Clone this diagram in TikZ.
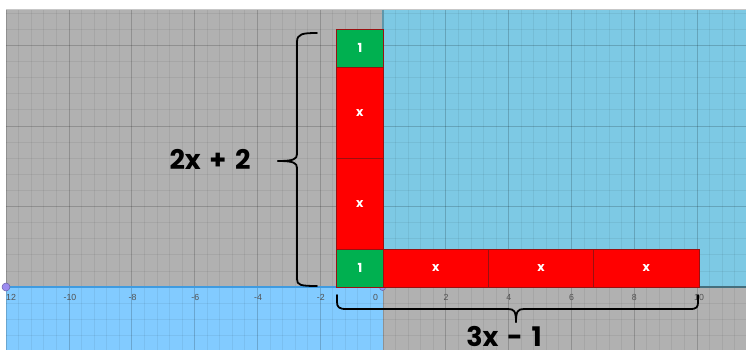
\documentclass[tikz,border=0pt]{standalone}
\usepackage{fontspec}
\newfontfamily\pop{Poppins}
\newfontfamily\lib{Liberation Sans}
\definecolor{graybg}{HTML}{B1B1B1}
\definecolor{blueur}{HTML}{7DC9E4}
\definecolor{bluell}{HTML}{82CBFF}
\definecolor{tgreen}{HTML}{00B050}
\definecolor{tred}{HTML}{FF0000}
\definecolor{tedge}{HTML}{9A1010}
\definecolor{axisb}{HTML}{3F9BE0}
\definecolor{ptpurple}{HTML}{9C8CF0}
\tikzset{
  minorline/.style={black, opacity=0.06, line width=0.8},
  majorline/.style={black, opacity=0.13, line width=1},
  tile/.style={draw=tedge, line width=0.6, inner sep=0, text=white,
    font={\pop\bfseries\fontsize{12.5}{13}\selectfont}},
  unittile/.style={tile, fill=tgreen, minimum width=46.8, minimum height=37.6},
  xvtile/.style={tile, fill=tred, minimum width=46.8, minimum height=91.1},
  xhtile/.style={tile, fill=tred, minimum width=105.2, minimum height=37.6},
  ticklab/.style={text=black!68, font={\lib\fontsize{8.8}{10}\selectfont}, inner sep=0},
  bigtext/.style={font={\pop\bfseries\fontsize{27}{30}\selectfont}, inner sep=0},
  bracestyle/.style={line width=1.8, black, line cap=round, line join=round},
}
\begin{document}
\begin{tikzpicture}[x=1pt,y=-1pt]
\useasboundingbox (0,0) rectangle (746,350);
\fill[white] (0,0) rectangle (746,350);
\begin{scope}
  \clip (6,10) rectangle (746,350);
  \fill[graybg] (6,10) rectangle (383,287);
  \fill[blueur] (383,10) rectangle (746,287);
  \fill[bluell] (6,287) rectangle (383,350);
  \fill[graybg] (383,287) rectangle (746,350);
  \foreach \i in {0,...,59} \draw[minorline] ({6.2+\i*12.56},10) -- ({6.2+\i*12.56},350);
  \foreach \i in {-4,...,18} \draw[minorline] (6,{287-\i*16.1}) -- (746,{287-\i*16.1});
  \foreach \i in {0,...,12} \draw[majorline] ({6.2+\i*62.8},10) -- ({6.2+\i*62.8},350);
  \foreach \i in {0,...,3} \draw[majorline] (6,{287-\i*80.5}) -- (746,{287-\i*80.5});
\end{scope}
% frame top line
\draw[black!22, line width=0.8] (6,9.6) -- (746,9.6);
% axes
\draw[axisb, line width=1.5] (6,287) -- (383,287);
\draw[black!45!blueur, line width=1.2] (383,287) -- (746,287);
\draw[black!25!blueur, line width=1.4] (383,10) -- (383,287);
% points
\node[circle, fill=ptpurple, draw=ptpurple!70!black, line width=0.5, minimum size=8, inner sep=0] (pl) at (6,287) {};
\node[circle, fill=ptpurple, draw=ptpurple!70!black, line width=0.5, minimum size=6, inner sep=0] (po) at (382.5,287.5) {};
% tick labels
\node[ticklab, anchor=west] (t12) at (6,297) {12};
\node[ticklab] (t10) at (70,297) {-10};
\node[ticklab] (t8) at (132.5,297) {-8};
\node[ticklab] (t6) at (195.3,297) {-6};
\node[ticklab] (t4) at (258,297) {-4};
\node[ticklab] (t2) at (320.8,297) {-2};
\node[ticklab] (t0) at (375.5,297) {0};
\node[ticklab] (p2) at (446,297) {2};
\node[ticklab] (p4) at (508.8,297) {4};
\node[ticklab] (p6) at (571.6,297) {6};
\node[ticklab] (p8) at (634.4,297) {8};
\node[ticklab] (p10) at (699,297) {10};
% tiles
\node[unittile] (u1) at (359.9,48.3) {1};
\node[xvtile] (xv1) at (359.9,112.6) {x};
\node[xvtile] (xv2) at (359.9,203.7) {x};
\node[unittile] (u2) at (359.9,268.2) {1};
\node[xhtile] (xh1) at (435.9,268.2) {x};
\node[xhtile] (xh2) at (541.1,268.2) {x};
\node[xhtile] (xh3) at (646.3,268.2) {x};
% left brace
\draw[bracestyle] (317,33) .. controls (302,33) and (297,34) .. (297,42) -- (297,154)
  .. controls (297,159) and (294,161) .. (278,161);
\draw[bracestyle] (278,161) .. controls (294,161) and (297,163) .. (297,168) -- (297,279)
  .. controls (297,285) and (300,286) .. (317,286);
% bottom brace
\draw[bracestyle] (337,295) -- (337,302) .. controls (337,307) and (339,309) .. (346,309)
  -- (508,309) .. controls (514,309) and (516,311) .. (516,322);
\draw[bracestyle] (516,322) .. controls (516,311) and (518,309) .. (524,309)
  -- (690,309) .. controls (697,309) and (698,307) .. (698,302) -- (698,295);
% labels
\node[bigtext] (lh) at (210,159) {2x\hspace{0.32em}+\hspace{0.32em}2};
\node[bigtext, anchor=north] (lw) at (504,326) {3x\hspace{0.32em}-\hspace{0.32em}1};
\end{tikzpicture}
\end{document}
